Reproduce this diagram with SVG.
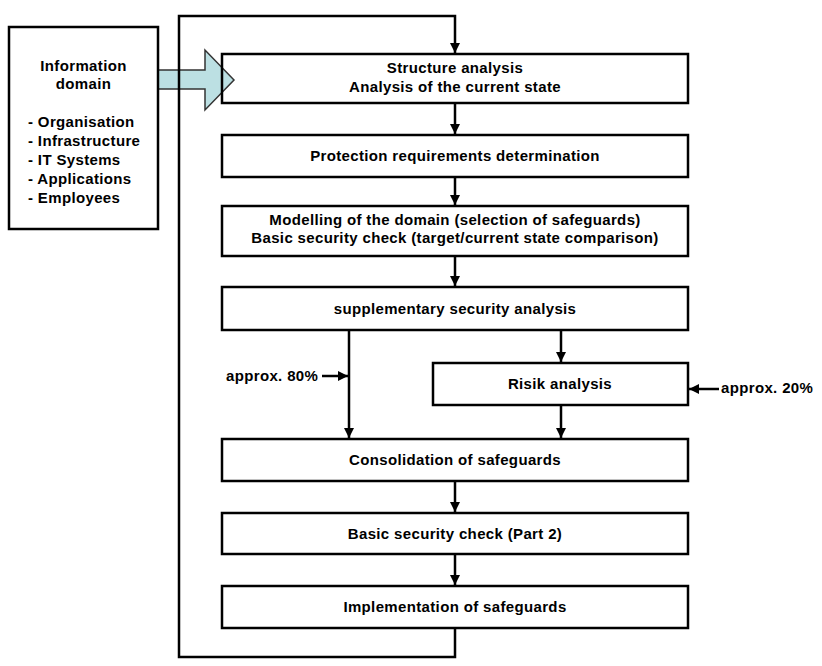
<svg xmlns="http://www.w3.org/2000/svg" width="822" height="666" viewBox="0 0 822 666">
<defs>
<style>
.box{fill:#fff;stroke:#000;stroke-width:2.5}
.t{font-family:"Liberation Sans",Arial,sans-serif;font-weight:bold;font-size:15px;letter-spacing:0.35px;fill:#000}
.c{text-anchor:middle}
.ln{fill:none;stroke:#000;stroke-width:2.5}
</style>
<marker id="ah" viewBox="0 0 10 10" refX="10" refY="5" markerWidth="10" markerHeight="10" markerUnits="userSpaceOnUse" orient="auto">
<path d="M0,0 L10,5 L0,10 Z" fill="#000"/>
</marker>
</defs>
<rect width="822" height="666" fill="#fff"/>
<g id="big-arrow">
<path d="M158,70 L205,70 L205,50 L234,80 L205,110 L205,89 L158,89 Z" fill="#BCE0E3" stroke="#333" stroke-width="1.5"/>
</g>
<g id="info">
<rect class="box" x="9" y="27" width="149" height="202"/>
<text class="t c" x="83.5" y="71">Information</text>
<text class="t c" x="83.5" y="89">domain</text>
<text class="t" x="28" y="127">- Organisation</text>
<text class="t" x="28" y="146">- Infrastructure</text>
<text class="t" x="28" y="165">- IT Systems</text>
<text class="t" x="28" y="184">- Applications</text>
<text class="t" x="28" y="203">- Employees</text>
</g>
<g id="structure">
<rect class="box" x="222" y="54" width="466" height="49" style="fill:none"/>
<text class="t c" x="455" y="73">Structure analysis</text>
<text class="t c" x="455" y="92">Analysis of the current state</text>
</g>
<g id="protection">
<rect class="box" x="222" y="135" width="466" height="42"/>
<text class="t c" x="455" y="161">Protection requirements determination</text>
</g>
<g id="modelling">
<rect class="box" x="222" y="206" width="466" height="50"/>
<text class="t c" x="455" y="225">Modelling of the domain (selection of safeguards)</text>
<text class="t c" x="455" y="243">Basic security check (target/current state comparison)</text>
</g>
<g id="supplementary">
<rect class="box" x="222" y="287" width="466" height="43"/>
<text class="t c" x="455" y="314">supplementary security analysis</text>
</g>
<g id="risk">
<rect class="box" x="433" y="363" width="255" height="42"/>
<text class="t c" x="560" y="389">Risik analysis</text>
</g>
<g id="consolidation">
<rect class="box" x="222" y="439" width="466" height="42"/>
<text class="t c" x="455" y="465">Consolidation of safeguards</text>
</g>
<g id="check2">
<rect class="box" x="222" y="513" width="466" height="41"/>
<text class="t c" x="455" y="539">Basic security check (Part 2)</text>
</g>
<g id="implementation">
<rect class="box" x="222" y="586" width="466" height="42"/>
<text class="t c" x="455" y="612">Implementation of safeguards</text>
</g>
<g id="labels">
<text class="t" x="226" y="381">approx. 80%</text>
<text class="t" x="721" y="393">approx. 20%</text>
</g>
<g id="connectors">
<path class="ln" d="M455,628 L455,657 L179,657 L179,16 L455,16 L455,53" marker-end="url(#ah)"/>
<path class="ln" d="M455,103 L455,134" marker-end="url(#ah)"/>
<path class="ln" d="M455,177 L455,205" marker-end="url(#ah)"/>
<path class="ln" d="M455,256 L455,286" marker-end="url(#ah)"/>
<path class="ln" d="M349,330 L349,438" marker-end="url(#ah)"/>
<path class="ln" d="M561,330 L561,362" marker-end="url(#ah)"/>
<path class="ln" d="M561,405 L561,438" marker-end="url(#ah)"/>
<path class="ln" d="M455,481 L455,512" marker-end="url(#ah)"/>
<path class="ln" d="M455,554 L455,585" marker-end="url(#ah)"/>
<path class="ln" d="M322,376 L348,376" marker-end="url(#ah)"/>
<path class="ln" d="M719,389 L689,389" marker-end="url(#ah)"/>
</g>
</svg>
